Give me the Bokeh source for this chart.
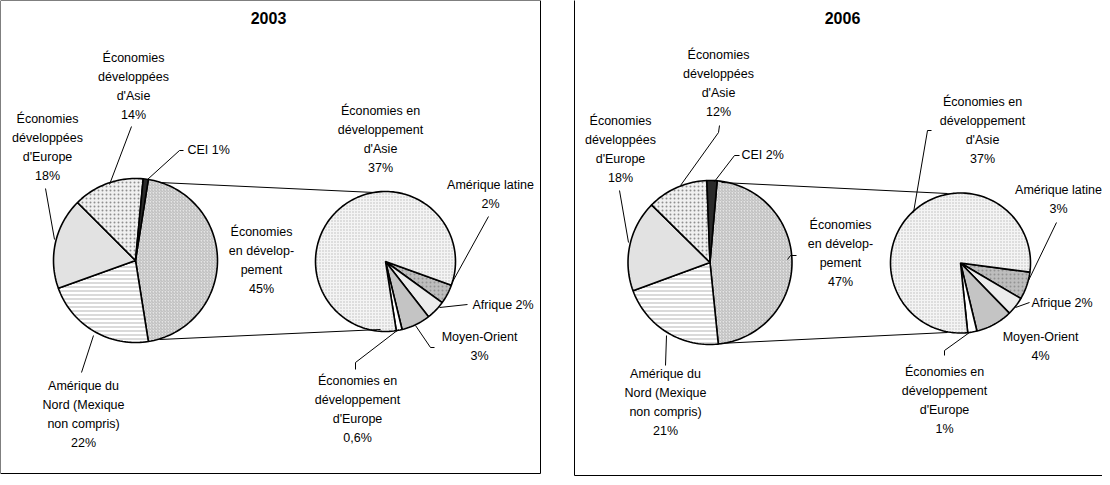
import numpy as np
from bokeh.plotting import figure
from bokeh.models import Range1d
from bokeh.core.properties import value
from bokeh.embed import file_html
from bokeh.resources import INLINE

# ---- data ----
years = ["2003", "2006"]
main_labels = ["CEI", "Économies développées d'Asie", "Économies développées d'Europe",
               "Amérique du Nord (Mexique non compris)", "Économies en développement"]
main_2003 = [1, 14, 18, 22, 45]
main_2006 = [2, 12, 18, 21, 47]
sub_labels = ["Amérique latine", "Afrique", "Moyen-Orient",
              "Économies en développement d'Europe", "Économies en développement d'Asie"]
sub_2003 = [2, 2, 3, 0.6, 37]
sub_2006 = [3, 2, 4, 1, 37]

main_label_txt = {
    "2003": ["CEI 1%", "Économies\ndéveloppées\nd'Asie\n14%", "Économies\ndéveloppées\nd'Europe\n18%",
             "Amérique du\nNord (Mexique\nnon compris)\n22%", "Économies\nen dévelop-\npement\n45%"],
    "2006": ["CEI 2%", "Économies\ndéveloppées\nd'Asie\n12%", "Économies\ndéveloppées\nd'Europe\n18%",
             "Amérique du\nNord (Mexique\nnon compris)\n21%", "Économies\nen dévelop-\npement\n47%"],
}
sub_label_txt = {
    "2003": ["Amérique latine\n2%", "Afrique 2%", "Moyen-Orient\n3%",
             "Économies en\ndéveloppement\nd'Europe\n0,6%", "Économies en\ndéveloppement\nd'Asie\n37%"],
    "2006": ["Amérique latine\n3%", "Afrique 2%", "Moyen-Orient\n4%",
             "Économies en\ndéveloppement\nd'Europe\n1%", "Économies en\ndéveloppement\nd'Asie\n37%"],
}

H = 485
def Y(y):
    return H - y

FONT = value("Liberation Sans")

main_style = [  # CEI, Asia dev, Europe dev, NA, developing
    dict(fill_color="#2a2a2a", hatch_pattern=None),
    dict(fill_color="#f0f0f0", hatch_pattern="dot", hatch_color="#777777", hatch_scale=4),
    dict(fill_color="#e2e2e2", hatch_pattern=None),
    dict(fill_color="#ffffff", hatch_pattern="horizontal_line", hatch_color="#666666", hatch_scale=4),
    dict(fill_color="#e4e4e4", hatch_pattern="right_diagonal_line", hatch_color="#888888", hatch_scale=3),
]
sub_style = [
    dict(fill_color="#bdbdbd", hatch_pattern="dot", hatch_color="#888888", hatch_scale=4),
    dict(fill_color="#ececec", hatch_pattern=None),
    dict(fill_color="#c4c4c4", hatch_pattern=None),
    dict(fill_color="#ffffff", hatch_pattern=None),
    dict(fill_color="#f4f4f4", hatch_pattern="dot", hatch_color="#aaaaaa", hatch_scale=3),
]

panels = {
    "2003": dict(box=(8, 8, 548, 481), title=(276, 25),
                 mc=(143, 268), mr=82, m_start=81.0,
                 sc=(393, 269), sr=70, s_start=-19.8,
                 mlab=[(195, 157, "left"), (141, 65, "center"), (55, 126, "center"), (91, 393, "center"), (269, 239, "center")],
                 slab=[(498, 192, "center"), (480, 312, "left"), (487, 344, "center"), (365, 388, "center"), (388, 118, "center")],
                 leaders=[[(191, 158), (187, 158), (155, 187)], [(139, 134), (117, 192)], [(53, 196), (62, 247)],
                          [(89, 380), (101, 343)], [(496, 224), (458, 293)], [(475, 312), (447, 315)],
                          [(423, 333), (438, 355), (442, 355)], [(363, 377), (363, 370), (406, 337)]],
                 conn=[[(167, 190), (382, 200)], [(167, 347), (388, 337)]]),
    "2006": dict(box=(582, 7, 1116, 483), title=(850, 25),
                 mc=(717.5, 270), mr=82, m_start=85.0,
                 sc=(968, 270.5), sr=70, s_start=-7.5,
                 mlab=[(749, 162, "left"), (726, 62, "center"), (628, 128, "center"), (673, 381, "center"), (848, 232, "center")],
                 slab=[(1066, 197, "center"), (1039, 310, "left"), (1048, 344, "center"), (952, 379, "center"), (990, 109, "center")],
                 leaders=[[(747, 163), (742, 163), (722, 189)], [(727, 133), (726, 140), (688, 193)], [(627, 198), (636, 250)],
                          [(673, 373), (674, 343)], [(804, 263), (798, 263), (795, 267)], [(939, 138), (935, 138), (921, 220)],
                          [(1064, 230), (1036, 288)], [(1037, 310), (1023, 315)], [(952, 363), (952, 358), (977, 340)]],
                 conn=[[(729, 190), (955, 201)], [(726, 351), (955, 340)]]),
}

p = figure(width=1102, height=477, output_backend="svg", toolbar_location=None,
           x_range=Range1d(8, 1110), y_range=Range1d(Y(485), Y(8)), min_border=0)
p.axis.visible = False
p.grid.visible = False
p.outline_line_color = None
p.background_fill_color = "white"


def wedge(cx, cy, r, a0, a1):
    n = max(4, int(abs(a1 - a0) / 2) + 2)
    t = np.radians(np.linspace(a0, a1, n))
    xs = [cx] + list(cx + r * np.cos(t)) + [cx]
    ys = [Y(cy)] + list(Y(cy) + r * np.sin(t)) + [Y(cy)]
    return xs, ys


def draw_pie(vals, styles, cx, cy, r, start, order):
    total = sum(vals)
    a = start
    for i in order:
        span = vals[i] / total * 360
        xs, ys = wedge(cx, cy, r, a, a - span)
        st = styles[i]
        kw = dict(fill_color=st["fill_color"], line_color="black", line_width=1.6)
        if st.get("hatch_pattern"):
            kw.update(hatch_pattern=st["hatch_pattern"], hatch_color=st["hatch_color"],
                      hatch_scale=st["hatch_scale"], hatch_weight=0.6, hatch_alpha=0.8)
        p.patch(xs, ys, **kw)
        a -= span


def draw_text(x, y, txt, align, size="12.5px"):
    for k, line in enumerate(txt.split("\n")):
        p.text([x], [Y(y + k * 19)], text=[line], text_align=align, text_baseline="middle",
               text_font=FONT, text_font_size=size, text_color="black")


for yr, mv, sv in [("2003", main_2003, sub_2003), ("2006", main_2006, sub_2006)]:
    g = panels[yr]
    x0, y0, x1, y1 = g["box"]
    p.line([x0, x1, x1, x0, x0], [Y(y0), Y(y0), Y(y1), Y(y1), Y(y0)], line_color="black", line_width=1)
    p.text([g["title"][0]], [Y(g["title"][1])], text=[yr], text_align="center", text_baseline="middle",
           text_font=FONT, text_font_size="16px", text_font_style="bold")
    # main pie: developing from its top edge clockwise, then NA, Europe, Asia, CEI
    draw_pie(mv, main_style, *g["mc"], g["mr"], g["m_start"], [4, 3, 2, 1, 0])
    draw_pie(sv, sub_style, *g["sc"], g["sr"], g["s_start"], [0, 1, 2, 3, 4])
    for seg in g["conn"] + g["leaders"]:
        p.line([q[0] for q in seg], [Y(q[1]) for q in seg], line_color="black", line_width=1)
    for (x, y, al), t in zip(g["mlab"], main_label_txt[yr]):
        draw_text(x, y, t, al)
    for (x, y, al), t in zip(g["slab"], sub_label_txt[yr]):
        draw_text(x, y, t, al)

open("out.html", "w").write(file_html(p, INLINE))
